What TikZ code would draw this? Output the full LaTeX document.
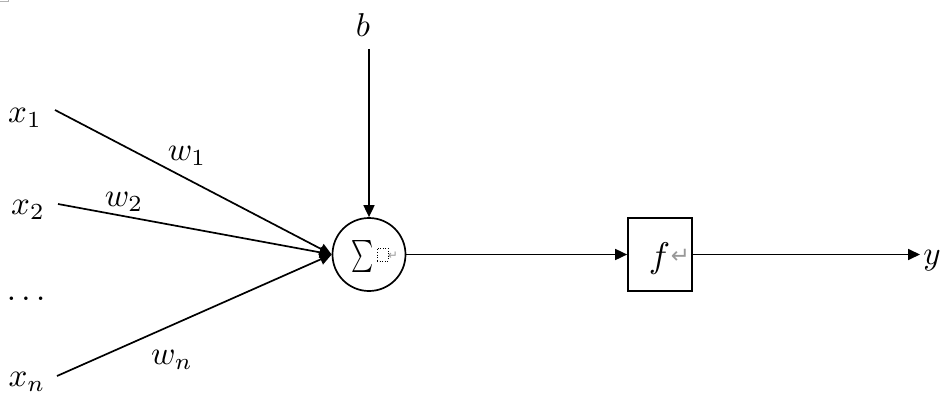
\documentclass[tikz,border=0pt]{standalone}
\usepackage{fontspec}
\usetikzlibrary{arrows.meta}
\newfontfamily\symfont{DejaVu Sans}
\begin{document}
\begin{tikzpicture}[x=1pt,y=-1pt,
  conn/.style={line width=1.7pt},
  arr/.style={conn,-{Triangle[length=12pt,width=11pt]}},
  lbl/.style={inner sep=0pt,scale=3.3},
  retmark/.style={inner sep=0pt,text=gray!80,font=\fontsize{12}{14}\selectfont\symfont}
]
\useasboundingbox (0,0) rectangle (949,417);
% corner mark
\draw[gray!60,line width=0.8pt] (0,1.5) -- (8,1.5) -- (8,0);
% sum node and f box
\node[draw,circle,line width=1.7pt,minimum size=73pt,inner sep=0pt] (sum) at (369,254.5) {};
\node[inner sep=0pt,xscale=2.1,yscale=3.2] (sigma) at (362.5,256.5) {$\sum$};
\node[draw,dotted,line width=0.6pt,minimum width=11pt,minimum height=13pt,inner sep=0pt] (ph) at (382.5,254.5) {};
\node[retmark] (ret1) at (393,256) {↵};
\node[draw,line width=1.7pt,minimum width=64pt,minimum height=73pt,inner sep=0pt] (f) at (660,254.5) {};
\node[lbl,scale=1.08] (fl) at (659.5,259) {$f$};
\node[retmark,scale=1.9] (ret2) at (680.5,256) {↵};
% labels
\node[lbl] (b) at (363,25) {$b$};
\node[lbl] (x1) at (25,118) {$x_1$};
\node[lbl] (x2) at (28,210) {$x_2$};
\node[lbl] (dots) at (26,299) {$\dots$};
\node[lbl] (xn) at (27,382) {$x_n$};
\node[lbl] (w1) at (187,156) {$w_1$};
\node[lbl] (w2) at (124,202) {$w_2$};
\node[lbl] (wn) at (172,360) {$w_n$};
\node[lbl] (y) at (932,261) {$y$};
% free ends
\coordinate (b0) at (369,49);
\coordinate (s1) at (55,110);
\coordinate (s2) at (58,204);
\coordinate (sn) at (57,376);
\coordinate (yend) at (920,254.5);
% connectors
\draw[arr] (b0) -- (sum.north);
\draw[arr] (s1) -- (sum.west);
\draw[arr] (s2) -- (sum.west);
\draw[arr] (sn) -- (sum.west);
\draw[arr] (sum.east) -- (f.west);
\draw[arr] (f.east) -- (yend);
\end{tikzpicture}
\end{document}
